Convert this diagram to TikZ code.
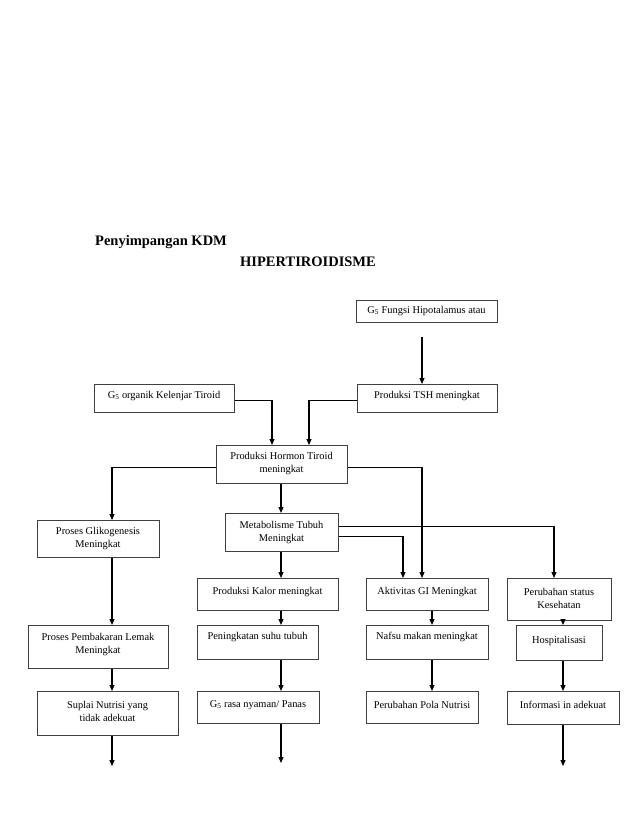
\documentclass[tikz,border=0pt]{standalone}
\usepackage{fontspec}
\setmainfont{Liberation Serif}
\usetikzlibrary{arrows.meta}
\tikzset{
  box/.style={draw=black!75,line width=1.1pt,rectangle,inner sep=0pt,anchor=north west},
  txt/.style={font=\fontsize{10.4}{13}\selectfont,align=center,inner sep=0pt},
  ttl/.style={font=\fontsize{14.5}{17}\selectfont\bfseries,inner sep=0pt,anchor=west},
  arr/.style={line width=1.1pt,-{Triangle[length=6pt,width=5pt]}}
}
\begin{document}
\begin{tikzpicture}[x=1pt,y=-1pt]
\fill[white] (0,0) rectangle (638,826);
\useasboundingbox (0,0) rectangle (638,826);
% titles
\node[ttl] (title1) at (95,242) {Penyimpangan KDM};
\node[ttl] (title2) at (240,262) {HIPERTIROIDISME};
% boxes
\node[box,minimum width=141pt,minimum height=22pt] (hyp) at (356,300) {};
\node[box,minimum width=140pt,minimum height=28pt] (tsh) at (357,384) {};
\node[box,minimum width=140pt,minimum height=28pt] (org) at (94,384) {};
\node[box,minimum width=131pt,minimum height=38pt] (hor) at (216,445) {};
\node[box,minimum width=122pt,minimum height=37pt] (gli) at (37,520) {};
\node[box,minimum width=113pt,minimum height=38pt] (met) at (225,513) {};
\node[box,minimum width=141pt,minimum height=32pt] (kal) at (197,578) {};
\node[box,minimum width=122pt,minimum height=32pt] (akt) at (366,578) {};
\node[box,minimum width=104pt,minimum height=42pt] (per) at (507,578) {};
\node[box,minimum width=140pt,minimum height=43pt] (pem) at (28,625) {};
\node[box,minimum width=121pt,minimum height=34pt] (pen) at (197,625) {};
\node[box,minimum width=122pt,minimum height=34pt] (naf) at (366,625) {};
\node[box,minimum width=86pt,minimum height=35pt] (hos) at (516,625) {};
\node[box,minimum width=141pt,minimum height=44pt] (sup) at (37,691) {};
\node[box,minimum width=122pt,minimum height=32pt] (ras) at (197,691) {};
\node[box,minimum width=112pt,minimum height=32pt] (pol) at (366,691) {};
\node[box,minimum width=112pt,minimum height=33pt] (inf) at (507,691) {};
% texts
\node[txt] (t-hyp) at (426.5,311) {G\textsubscript{5} Fungsi Hipotalamus atau};
\node[txt] (t-tsh) at (427,396) {Produksi TSH meningkat};
\node[txt] (t-org) at (164,396) {G\textsubscript{5} organik Kelenjar Tiroid};
\node[txt] (t-hor) at (281.5,463.5) {Produksi Hormon Tiroid\\meningkat};
\node[txt] (t-gli) at (98,539) {Proses Glikogenesis\\Meningkat};
\node[txt] (t-met) at (281.5,532.5) {Metabolisme Tubuh\\Meningkat};
\node[txt] (t-kal) at (267.5,592) {Produksi Kalor meningkat};
\node[txt] (t-akt) at (427,592) {Aktivitas GI Meningkat};
\node[txt] (t-per) at (559,598.5) {Perubahan status\\Kesehatan};
\node[txt] (t-pem) at (98,645) {Proses Pembakaran Lemak\\Meningkat};
\node[txt] (t-pen) at (257.5,637) {Peningkatan suhu tubuh};
\node[txt] (t-naf) at (427,637) {Nafsu makan meningkat};
\node[txt] (t-hos) at (559,641) {Hospitalisasi};
\node[txt] (t-sup) at (107.5,711.5) {Suplai Nutrisi yang\\tidak adekuat};
\node[txt] (t-ras) at (258,705) {G\textsubscript{5} rasa nyaman/ Panas};
\node[txt] (t-pol) at (422,705) {Perubahan Pola Nutrisi};
\node[txt] (t-inf) at (563,705) {Informasi in adekuat};
% column coordinates
\coordinate (c112) at (112,0);
\coordinate (c272) at (272,0);
\coordinate (c281) at (281,0);
\coordinate (c309) at (309,0);
\coordinate (c403) at (403,0);
\coordinate (c422) at (422,0);
\coordinate (c432) at (432,0);
\coordinate (c554) at (554,0);
\coordinate (c563) at (563,0);
\coordinate (h1) at (422,337);
\coordinate (e1) at (112,766);
\coordinate (e2) at (281,763);
\coordinate (e3) at (563,766);
% connectors
\draw[arr] (h1) -- (tsh.north -| h1);
\draw[arr] ([yshift=-2pt]org.east) -| (hor.north -| c272);
\draw[arr] ([yshift=-2pt]tsh.west) -| (hor.north -| c309);
\draw[arr] ([yshift=-3pt]hor.west) -| (gli.north -| c112);
\draw[arr] ([yshift=-3pt]hor.east) -| (akt.north -| c422);
\draw[arr] (hor.south -| c281) -- (met.north -| c281);
\draw[arr] ([yshift=6pt]met.east) -| (per.north -| c554);
\draw[arr] ([yshift=-4pt]met.east) -| (akt.north -| c403);
\draw[arr] (met.south -| c281) -- (kal.north -| c281);
\draw[arr] (gli.south -| c112) -- (pem.north -| c112);
\draw[arr] (kal.south -| c281) -- (pen.north -| c281);
\draw[arr] (akt.south -| c432) -- (naf.north -| c432);
\draw[arr] (per.south -| c563) -- (hos.north -| c563);
\draw[arr] (pem.south -| c112) -- (sup.north -| c112);
\draw[arr] (pen.south -| c281) -- (ras.north -| c281);
\draw[arr] (naf.south -| c432) -- (pol.north -| c432);
\draw[arr] (hos.south -| c563) -- (inf.north -| c563);
\draw[arr] (sup.south -| c112) -- (e1);
\draw[arr] (ras.south -| c281) -- (e2);
\draw[arr] (inf.south -| c563) -- (e3);
\end{tikzpicture}
\end{document}
